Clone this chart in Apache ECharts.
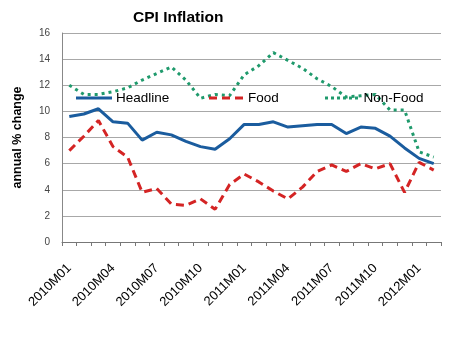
<!DOCTYPE html>
<html>
<head>
<meta charset="utf-8">
<script src="https://cdn.jsdelivr.net/npm/echarts@6/dist/echarts.min.js"></script>
<style>html,body{margin:0;padding:0;background:#fff}#c{width:463px;height:342px}</style>
</head>
<body>
<div id="c"></div>
<script>
const categories = ['2010M01','2010M02','2010M03','2010M04','2010M05','2010M06','2010M07','2010M08','2010M09','2010M10','2010M11','2010M12',
  '2011M01','2011M02','2011M03','2011M04','2011M05','2011M06','2011M07','2011M08','2011M09','2011M10','2011M11','2011M12','2012M01','2012M02'];
const headline = [9.6, 9.8, 10.2, 9.2, 9.1, 7.8, 8.4, 8.2, 7.7, 7.3, 7.1, 7.9, 9.0, 9.0, 9.2, 8.8, 8.9, 9.0, 9.0, 8.3, 8.8, 8.7, 8.1, 7.2, 6.4, 6.0];
const food = [7.0, 8.1, 9.3, 7.3, 6.5, 3.8, 4.1, 2.9, 2.8, 3.3, 2.5, 4.4, 5.2, 4.6, 3.9, 3.3, 4.2, 5.4, 5.9, 5.4, 6.0, 5.6, 6.0, 3.8, 6.1, 5.5];
const nonFood = [12.0, 11.3, 11.3, 11.5, 11.8, 12.4, 12.9, 13.4, 12.4, 11.0, 11.3, 11.2, 12.8, 13.5, 14.5, 13.9, 13.3, 12.5, 11.9, 11.1, 11.2, 11.3, 10.1, 10.1, 6.9, 6.5];
const yTicks = [0, 2, 4, 6, 8, 10, 12, 14, 16];

const font = 'Liberation Sans, Arial, sans-serif';
const chart = echarts.init(document.getElementById('c'));
const legendBase = {top: 91, padding: 0, itemWidth: 36, itemHeight: 3, itemGap: 4,
  textStyle: {fontFamily: font, fontSize: 13.5, color: '#000', padding: [0, 0, 0, -1]}};
const solidIcon = 'path://M0,0H36V3H0Z';
const dashIcon = 'path://M0,0H8V3H0Z M13,0H21V3H13Z M26,0H34V3H26Z';
const dotIcon = 'path://M0,0H3V3H0Z M6,0H9V3H6Z M12,0H15V3H12Z M18,0H21V3H18Z M24,0H27V3H24Z M30,0H33V3H30Z';
chart.setOption({
  animation: false,
  backgroundColor: '#fff',
  title: {text: 'CPI Inflation', left: 128, top: 5,
    textStyle: {fontFamily: font, fontSize: 15.5, fontWeight: 'bold', color: '#000'}},
  legend: [
    Object.assign({}, legendBase, {data: [{name: 'Headline', icon: solidIcon}], left: 76}),
    Object.assign({}, legendBase, {data: [{name: 'Food', icon: dashIcon}], left: 209}),
    Object.assign({}, legendBase, {data: [{name: 'Non-Food', icon: dotIcon}], left: 325})
  ],
  grid: {left: 62, right: 22, top: 33, bottom: 100},
  xAxis: {
    type: 'category', data: categories, boundaryGap: true,
    axisLine: {lineStyle: {color: '#777', width: 1}},
    axisTick: {show: true, interval: 0, length: 4, lineStyle: {color: '#777'}},
    axisLabel: {interval: 2, rotate: 45, margin: 24, fontFamily: font, fontSize: 13, color: '#000'}
  },
  yAxis: {
    type: 'value', min: yTicks[0], max: yTicks[yTicks.length - 1], interval: 2,
    name: 'annual % change', nameLocation: 'middle', nameGap: 38,
    nameTextStyle: {fontFamily: font, fontSize: 12.5, fontWeight: 'bold', color: '#000'},
    axisLine: {show: true, lineStyle: {color: '#888'}},
    axisTick: {show: false},
    axisLabel: {margin: 12, fontFamily: font, fontSize: 10, color: '#444'},
    splitLine: {lineStyle: {color: '#a8a8a8', width: 1}}
  },
  series: [
    {name: 'Headline', type: 'line', data: headline, symbol: 'none',
      lineStyle: {color: '#1a5c9e', width: 3}, itemStyle: {color: '#1a5c9e'}},
    {name: 'Food', type: 'line', data: food, symbol: 'none',
      lineStyle: {color: '#d42424', width: 3, type: [8, 5]}, itemStyle: {color: '#d42424'}},
    {name: 'Non-Food', type: 'line', data: nonFood, symbol: 'none',
      lineStyle: {color: '#1f9a6c', width: 3, type: [3, 4]}, itemStyle: {color: '#1f9a6c'}}
  ]
});
</script>
</body>
</html>
